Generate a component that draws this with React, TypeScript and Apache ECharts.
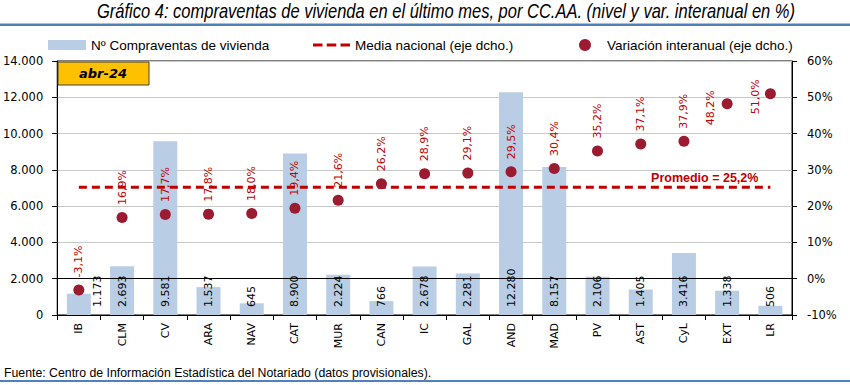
import React, { useEffect, useRef } from "react";
import * as echarts from "echarts";

const categories = ["IB", "CLM", "CV", "ARA", "NAV", "CAT", "MUR", "CAN", "IC", "GAL", "AND", "MAD", "PV", "AST", "CyL", "EXT", "LR"];
const sales = [1173, 2693, 9581, 1537, 645, 8900, 2224, 766, 2678, 2281, 12280, 8157, 2106, 1405, 3416, 1338, 506];
const yoy = [-3.1, 16.9, 17.7, 17.8, 18.0, 19.4, 21.6, 26.2, 28.9, 29.1, 29.5, 30.4, 35.2, 37.1, 37.9, 48.2, 51.0];
const nationalAvg = 25.2;
const leftTicks = { min: 0, max: 14000, interval: 2000 };
const rightTicks = { min: -10, max: 60, interval: 10 };

const FONT = "'DejaVu Sans', sans-serif";
const SANS = "'Liberation Sans', Arial, sans-serif";

const fmtThousands = (v: number) => String(Math.round(v)).replace(/\B(?=(\d{3})+(?!\d))/g, ".");
const fmtPct = (v: number) => v.toFixed(1).replace(".", ",") + "%";

export default function App() {
  const ref = useRef<HTMLDivElement>(null);
  useEffect(() => {
    if (!ref.current) return;
    const chart = echarts.init(ref.current, undefined, { renderer: "svg" });
    const barData = sales.map((v, i) =>
      i === 0 ? { value: v, label: { offset: [0, 19] } } : v
    );
    const scatterData = yoy.map((v, i) => {
      if (categories[i] === "EXT") return { value: v, label: { offset: [-34, -17] } };
      if (categories[i] === "LR") return { value: v, label: { offset: [-33, -15] } };
      return v;
    });
    const legendText = { fontFamily: SANS, fontSize: 13.5, color: "#000" };
    chart.setOption({
      animation: false,
      textStyle: { fontFamily: FONT },
      legend: [
        {
          data: [{ name: "Nº Compraventas de vivienda", icon: "rect" }],
          left: 48, top: 38, itemWidth: 38, itemHeight: 10, padding: 0,
          textStyle: legendText,
        },
        {
          data: [{ name: "Media nacional (eje dcho.)", icon: "path://M0,0H9V3H0Z M13,0H22V3H13Z M26,0H35V3H26Z", itemStyle: { color: "#C00000" } }],
          left: 313, top: 38, itemWidth: 37, itemHeight: 4, padding: 0,
          textStyle: legendText,
        },
        {
          data: [{ name: "Variación interanual (eje dcho.)", icon: "circle" }],
          left: 579, top: 38, itemWidth: 12, itemHeight: 12, padding: 0,
          textStyle: { ...legendText, padding: [0, 0, 0, 11] },
        },
      ],
      grid: { left: 57, right: 58, top: 61, bottom: 70, show: true, borderColor: "#000", borderWidth: 1 },
      xAxis: {
        type: "category",
        data: categories,
        boundaryGap: true,
        axisLine: { lineStyle: { color: "#000" } },
        axisTick: { show: true, alignWithLabel: false, length: 5, lineStyle: { color: "#000" } },
        axisLabel: { rotate: 90, color: "#000", fontSize: 11, fontFamily: FONT, margin: 8 },
      },
      yAxis: [
        {
          type: "value",
          min: leftTicks.min, max: leftTicks.max, interval: leftTicks.interval,
          axisLine: { show: true, lineStyle: { color: "#000" } },
          axisTick: { show: true, length: 5, lineStyle: { color: "#000" } },
          splitLine: { show: true, lineStyle: { color: "#C8C8C8" } },
          axisLabel: { color: "#000", fontSize: 11.5, fontFamily: FONT, formatter: (v: number) => fmtThousands(v), margin: 14 },
        },
        {
          type: "value",
          min: rightTicks.min, max: rightTicks.max, interval: rightTicks.interval,
          position: "right",
          axisLine: { show: true, lineStyle: { color: "#000" } },
          axisTick: { show: true, length: 5, lineStyle: { color: "#000" } },
          splitLine: { show: false },
          axisLabel: { color: "#000", fontSize: 11.5, fontFamily: FONT, formatter: (v: number) => v + "%", margin: 15 },
        },
      ],
      series: [
        {
          name: "Nº Compraventas de vivienda",
          type: "bar",
          yAxisIndex: 0,
          data: barData,
          barWidth: 24,
          itemStyle: { color: "#B9CDE5" },
          z: 2,
          label: {
            show: true,
            position: "insideBottom",
            rotate: 90,
            align: "left",
            verticalAlign: "middle",
            distance: 8,
            color: "#000",
            fontSize: 11,
            fontFamily: FONT,
            formatter: (p: any) => fmtThousands(p.value),
          },
        },
        {
          name: "Media nacional (eje dcho.)",
          type: "line",
          yAxisIndex: 1,
          data: categories.map(() => nationalAvg),
          symbol: "none",
          lineStyle: { color: "#C00000", width: 3, type: [8, 5] },
          itemStyle: { color: "#C00000" },
          z: 3,
          markPoint: {
            silent: true,
            symbol: "circle",
            symbolSize: 1,
            itemStyle: { color: "rgba(0,0,0,0)" },
            data: [
              {
                coord: [categories[categories.length - 1], nationalAvg],
                label: {
                  show: true,
                  position: "top",
                  align: "right",
                  verticalAlign: "bottom",
                  distance: 2,
                  offset: [-12, 0],
                  formatter: "Promedio = " + fmtPct(nationalAvg),
                  color: "#C00000",
                  fontWeight: "bold",
                  fontFamily: SANS,
                  fontSize: 12.5,
                },
              },
            ],
          },
        },
        {
          name: "Variación interanual (eje dcho.)",
          type: "scatter",
          yAxisIndex: 1,
          data: scatterData,
          symbolSize: 11,
          itemStyle: { color: "#9B1B30", opacity: 1 },
          z: 4,
          label: {
            show: true,
            position: "top",
            rotate: 90,
            align: "left",
            verticalAlign: "middle",
            distance: 7,
            color: "#C00000",
            fontSize: 11,
            fontFamily: FONT,
            formatter: (p: any) => fmtPct(p.value),
          },
          markLine: {
            silent: true,
            symbol: "none",
            label: { show: false },
            lineStyle: { color: "#000", width: 1, type: "solid" },
            data: [{ yAxis: 0 }],
          },
        },
      ],
      graphic: [
        {
          type: "text", x: 97, y: 1, scaleX: 0.825,
          style: {
            text: "Gráfico 4: compraventas de vivienda en el último mes, por CC.AA. (nivel y var. interanual en %)",
            fill: "#000", font: "italic 20px 'Liberation Sans', Arial, sans-serif", textVerticalAlign: "top",
          },
        },
        { type: "rect", shape: { x: 0, y: 23.5, width: 850, height: 2.5 }, style: { fill: "#4F81BD" }, silent: true },
        { type: "rect", shape: { x: 0, y: 380, width: 850, height: 2 }, style: { fill: "#4F81BD" }, silent: true },
        { type: "rect", shape: { x: 58, y: 62, width: 91, height: 23 }, style: { fill: "#FFC000", stroke: "#404040", lineWidth: 1 }, z: 10 },
        {
          type: "text", x: 103, y: 73, z: 11,
          style: { text: "abr-24", fill: "#000", font: "italic bold 13px 'DejaVu Sans'", textAlign: "center", textVerticalAlign: "middle" },
        },
        {
          type: "text", x: 4, y: 373,
          style: { text: "Fuente: Centro de Información Estadística del Notariado (datos provisionales).", fill: "#000", font: "12.3px 'Liberation Sans', Arial, sans-serif", textVerticalAlign: "middle" },
        },
      ],
    });
    return () => chart.dispose();
  }, []);
  return <div ref={ref} style={{ position: "absolute", left: 0, top: 0, width: 850, height: 385, background: "#fff" }} />;
}
